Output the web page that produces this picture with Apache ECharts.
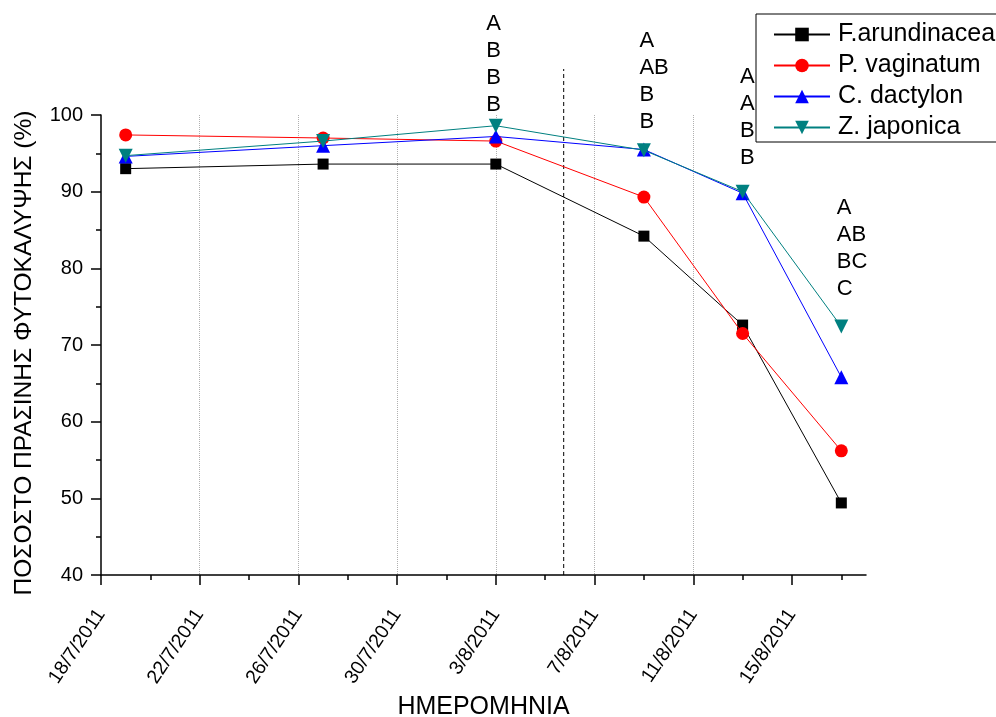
<!DOCTYPE html>
<html>
<head>
<meta charset="utf-8">
<script src="https://cdn.jsdelivr.net/npm/echarts@6/dist/echarts.min.js"></script>
<style>
html,body{margin:0;padding:0;background:#fff;}
#chart{width:996px;height:717px;}
</style>
</head>
<body>
<div id="chart"></div>
<script>
// ---- data ----
const sampleDates = ['2011-07-19', '2011-07-27', '2011-08-03', '2011-08-09', '2011-08-13', '2011-08-17'];
const fArundinacea = [93.0, 93.6, 93.6, 84.2, 72.6, 49.4];
const pVaginatum   = [97.4, 97.0, 96.6, 89.3, 71.5, 56.2];
const cDactylon    = [94.6, 96.0, 97.2, 95.5, 89.8, 65.8];
const zJaponica    = [94.7, 96.6, 98.6, 95.4, 90.0, 72.4];
const seriesNames  = ['F.arundinacea', 'P. vaginatum', 'C. dactylon', 'Z. japonica'];

const xTickLabels = ['18/7/2011', '22/7/2011', '26/7/2011', '30/7/2011', '3/8/2011', '7/8/2011', '11/8/2011', '15/8/2011'];
const axisStart = '2011-07-18';
const axisEnd = '2011-08-18';
const yTicks = [40, 50, 60, 70, 80, 90, 100];

const dividerDate = '2011-08-05T18:00';
const dividerTop = 106;

const annotationDates = ['2011-08-03', '2011-08-09', '2011-08-13', '2011-08-17'];
const annotationTexts = [['A', 'B', 'B', 'B'], ['A', 'AB', 'B', 'B'], ['A', 'A', 'B', 'B'], ['A', 'AB', 'BC', 'C']];
const annotationLevels = [113.6, 111.3, 106.6, 89.6];

// ---- helpers ----
const DAY = 86400000;
const toMs = s => Date.parse(s.length === 10 ? s + 'T00:00:00Z' : s + 'Z');
const base = toMs(axisStart);
const dayOf = s => (toMs(s) - base) / DAY;
const labelToDay = l => { const p = l.split('/'); return (Date.UTC(+p[2], +p[1] - 1, +p[0]) - base) / DAY; };
const tickDays = xTickLabels.map(labelToDay);
const tickInterval = tickDays[1] - tickDays[0];
const fmtDay = v => { const i = tickDays.indexOf(Math.round(v)); return i >= 0 ? xTickLabels[i] : ''; };

const FONT = '"Liberation Sans", Arial, sans-serif';
const xs = sampleDates.map(dayOf);
const pair = arr => arr.map((v, i) => [xs[i], v]);

const colors = ['#000000', '#ff0000', '#0000ff', '#008080'];
const symbols = ['rect', 'circle', 'triangle', 'triangle'];
const symbolSizes = [11, 13, 14, 14];
const rotations = [0, 0, 0, 180];
const values = [fArundinacea, pVaginatum, cDactylon, zJaponica];
const labelShift = [-9, -4, -2, -4];

const mainSeries = seriesNames.map((n, i) => ({
  name: n, type: 'line', xAxisIndex: 0, yAxisIndex: 0,
  data: pair(values[i]),
  symbol: symbols[i], symbolSize: symbolSizes[i], symbolRotate: rotations[i],
  showAllSymbol: true,
  lineStyle: { color: colors[i], width: 1 },
  itemStyle: { color: colors[i] },
  z: 3 + i, animation: false
}));

const option = {
  backgroundColor: '#fff',
  animation: false,
  grid: [
    { left: 101, right: 130, top: 115, bottom: 142, outerBoundsMode: 'none', containLabel: false },
    { left: 101, right: 130, top: 0, bottom: 142, outerBoundsMode: 'none', containLabel: false }
  ],
  xAxis: [
    {
      type: 'value', gridIndex: 0, min: 0, max: dayOf(axisEnd), interval: tickInterval,
      axisLine: { lineStyle: { color: '#000', width: 1.5 } },
      axisTick: { show: true, inside: false, length: 10, lineStyle: { color: '#000', width: 1.5 }, customValues: tickDays },
      minorTick: { show: true, splitNumber: 2, length: 5, lineStyle: { color: '#000', width: 1.5 } },
      axisLabel: { rotate: 56, margin: 36, fontSize: 19.5, color: '#000', fontFamily: FONT, formatter: fmtDay, customValues: tickDays, hideOverlap: false },
      splitLine: { show: true, showMinLine: false, showMaxLine: false, lineStyle: { type: 'dotted', color: '#b0b0b0', width: 1 } },
      name: 'ΗΜΕΡΟΜΗΝΙΑ', nameLocation: 'middle', nameGap: 120,
      nameTextStyle: { fontSize: 25, color: '#000', fontFamily: FONT }
    },
    { type: 'value', gridIndex: 1, min: 0, max: dayOf(axisEnd), show: false }
  ],
  yAxis: [
    {
      type: 'value', gridIndex: 0, min: yTicks[0], max: yTicks[yTicks.length - 1], interval: yTicks[1] - yTicks[0],
      axisLine: { show: true, lineStyle: { color: '#000', width: 1.5 } },
      axisTick: { show: true, inside: false, length: 10, lineStyle: { color: '#000', width: 1.5 } },
      minorTick: { show: true, splitNumber: 2, length: 5, lineStyle: { color: '#000', width: 1.5 } },
      axisLabel: { margin: 18, fontSize: 20, color: '#000', fontFamily: FONT },
      splitLine: { show: false },
      name: 'ΠΟΣΟΣΤΟ ΠΡΑΣΙΝΗΣ ΦΥΤΟΚΑΛΥΨΗΣ (%)', nameLocation: 'middle', nameGap: 64,
      nameTextStyle: { fontSize: 24.5, color: '#000', fontFamily: FONT, padding: [0, 16, 0, 0] }
    },
    { type: 'value', gridIndex: 1, min: 40, max: 115, show: false }
  ],
  legend: {
    data: seriesNames, orient: 'vertical', left: 756, top: 14,
    padding: [8, 8, 2, 17], itemGap: 6, itemWidth: 56, itemHeight: 17,
    borderColor: '#000', borderWidth: 1, backgroundColor: '#fff',
    textStyle: { fontSize: 25, color: '#000', fontFamily: FONT, padding: [0, 0, 0, 3] },
    z: 20
  },
  series: mainSeries.concat([
    {
      name: 'divider', type: 'line', xAxisIndex: 1, yAxisIndex: 1,
      data: [[dayOf(dividerDate), 40], [dayOf(dividerDate), dividerTop]],
      symbol: 'none', lineStyle: { color: '#000', width: 1, type: [4, 3] }, silent: true, z: 1
    },
    {
      name: 'letters', type: 'scatter', xAxisIndex: 1, yAxisIndex: 1,
      data: annotationDates.map((d, i) => ({
        value: [dayOf(d), annotationLevels[i]],
        label: { offset: [labelShift[i], 0] }
      })),
      symbolSize: 1, itemStyle: { color: 'rgba(0,0,0,0)' }, silent: true, z: 2,
      label: {
        show: true, position: [0, 0], align: 'left', verticalAlign: 'top',
        fontSize: 22, lineHeight: 27, color: '#000', fontFamily: FONT, textBorderWidth: 0, opacity: 1,
        formatter: p => annotationTexts[p.dataIndex].join('\n')
      }
    }
  ])
};

const chart = echarts.init(document.getElementById('chart'), null, { renderer: 'canvas' });
chart.setOption(option);
</script>
</body>
</html>
